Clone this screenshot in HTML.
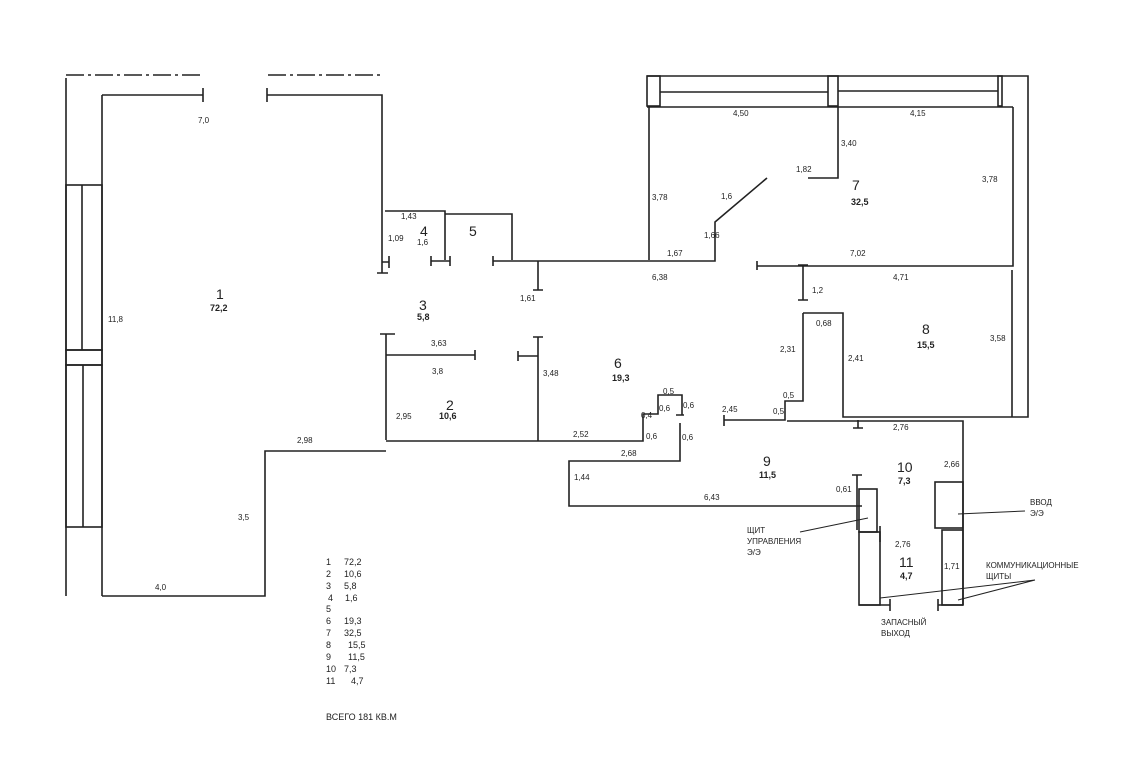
<!DOCTYPE html>
<html><head><meta charset="utf-8"><style>
html,body{margin:0;padding:0;background:#fff;}
svg{display:block;}
text{font-family:"Liberation Sans",sans-serif;fill:#222;}
.s{font-size:8px;}
.b{font-size:14px;}
.m{font-size:9px;font-weight:bold;}
</style></head><body>
<svg width="1129" height="768" viewBox="0 0 1129 768" xmlns="http://www.w3.org/2000/svg">
<g stroke="#222" stroke-width="1.6" fill="none">
<!-- left building -->
<path d="M66 78 V596 M102 95 V596"/>
<path d="M66 75 H200 M268 75 H382" stroke-dasharray="18,4,3,4"/>
<path d="M102 95 H203 M203 88 V102 M267 88 V102 M267 95 H382 V273 M377 273 H388 M389 256 V268 M382 262 H389"/>
<rect x="66" y="185" width="36" height="165"/><path d="M82 185 V350"/>
<rect x="66" y="350" width="36" height="15"/>
<rect x="66" y="365" width="36" height="162"/><path d="M83 365 V527"/>
<path d="M102 596 H265 V451 H386"/>
<!-- rooms 4,5 -->
<path d="M385 211 H445 V260 M431 261 H450 M431 256 V266 M450 256 V266"/>
<path d="M445 214 H512 V260 M493 256 V266 M493 261 H715 V222 L767 178 M538 261 V290 M533 290 H543"/>
<!-- room 2 -->
<path d="M386 334 V440 M380 334 H395 M386 355 H475 M475 350 V360 M518 356 H538 M518 351 V361 M538 337 V441 M533 337 H543"/>
<path d="M386 441 H643 V414 H658 V395 H682 V415 M676 415 H684 M680 423 V461 H569 V506 H862"/>
<!-- room 7 -->
<path d="M647 76 H1028 V417 H1012 M1013 107 V266 H757 M757 261 V270"/>
<rect x="647" y="76" width="13" height="30"/><rect x="828" y="76" width="10" height="30"/><rect x="998" y="76" width="4" height="30"/>
<path d="M660 92 H828 M838 91 H998 M647 107 H1013 M649 107 V260 M838 107 V178 H808"/>
<!-- room 8 -->
<path d="M803 265 V300 M798 265 H808 M798 300 H808 M803 313 V401 H785 V420 H724 M724 415 V426 M803 313 H843 V417 H1012 M1012 270 V417"/>
<path d="M787 421 H963 V605 M858 420 V428 M853 428 H863"/>
<!-- 10/11 -->
<rect x="935" y="482" width="28" height="46"/><rect x="942" y="530" width="21" height="75"/>
<path d="M938 605 H963 M938 599 V611"/>
<path d="M857 475 V530 M852 475 H862"/>
<rect x="859" y="489" width="18" height="43"/><rect x="859" y="532" width="21" height="73"/>
<path d="M880 526 V542 M859 605 H890 M890 599 V611"/>
</g>
<g stroke="#222" stroke-width="1" fill="none">
<path d="M800 532 L868 518 M958 514 L1025 511 M1035 580 L880 598 M1035 580 L958 600"/>
</g>
<g class="s">
<text x="198" y="123">7,0</text>
<text x="108" y="322">11,8</text>
<text x="238" y="520">3,5</text>
<text x="155" y="590">4,0</text>
<text x="297" y="443">2,98</text>
<text x="401" y="219">1,43</text>
<text x="388" y="241">1,09</text>
<text x="417" y="245">1,6</text>
<text x="520" y="301">1,61</text>
<text x="431" y="346">3,63</text>
<text x="432" y="374">3,8</text>
<text x="396" y="419">2,95</text>
<text x="543" y="376">3,48</text>
<text x="573" y="437">2,52</text>
<text x="621" y="456">2,68</text>
<text x="574" y="480">1,44</text>
<text x="704" y="500">6,43</text>
<text x="652" y="280">6,38</text>
<text x="667" y="256">1,67</text>
<text x="704" y="238">1,66</text>
<text x="721" y="199">1,6</text>
<text x="652" y="200">3,78</text>
<text x="733" y="116">4,50</text>
<text x="910" y="116">4,15</text>
<text x="841" y="146">3,40</text>
<text x="796" y="172">1,82</text>
<text x="982" y="182">3,78</text>
<text x="850" y="256">7,02</text>
<text x="893" y="280">4,71</text>
<text x="812" y="293">1,2</text>
<text x="816" y="326">0,68</text>
<text x="780" y="352">2,31</text>
<text x="848" y="361">2,41</text>
<text x="990" y="341">3,58</text>
<text x="663" y="394">0,5</text>
<text x="659" y="411">0,6</text>
<text x="683" y="408">0,6</text>
<text x="641" y="418">0,4</text>
<text x="646" y="439">0,6</text>
<text x="682" y="440">0,6</text>
<text x="722" y="412">2,45</text>
<text x="783" y="398">0,5</text>
<text x="773" y="414">0,5</text>
<text x="893" y="430">2,76</text>
<text x="944" y="467">2,66</text>
<text x="836" y="492">0,61</text>
<text x="895" y="547">2,76</text>
<text x="944" y="569">1,71</text>
<text x="747" y="533">ЩИТ</text>
<text x="747" y="544">УПРАВЛЕНИЯ</text>
<text x="747" y="555">Э/Э</text>
<text x="1030" y="505">ВВОД</text>
<text x="1030" y="516">Э/Э</text>
<text x="986" y="568">КОММУНИКАЦИОННЫЕ</text>
<text x="986" y="579">ЩИТЫ</text>
<text x="881" y="625">ЗАПАСНЫЙ</text>
<text x="881" y="636">ВЫХОД</text>
</g>
<g class="b">
<text x="216" y="299">1</text><text x="419" y="310">3</text><text x="420" y="236">4</text>
<text x="469" y="236">5</text><text x="446" y="410">2</text><text x="614" y="368">6</text>
<text x="852" y="190">7</text><text x="922" y="334">8</text><text x="763" y="466">9</text>
<text x="897" y="472">10</text><text x="899" y="567">11</text>
</g>
<g class="m">
<text x="210" y="311">72,2</text><text x="417" y="320">5,8</text>
<text x="439" y="419">10,6</text><text x="612" y="381">19,3</text>
<text x="851" y="205">32,5</text><text x="917" y="348">15,5</text>
<text x="759" y="478">11,5</text><text x="898" y="484">7,3</text><text x="900" y="579">4,7</text>
</g>
<g class="s" style="font-size:9px">
<text x="326" y="565">1</text><text x="344" y="565">72,2</text>
<text x="326" y="577">2</text><text x="344" y="577">10,6</text>
<text x="326" y="589">3</text><text x="344" y="589">5,8</text>
<text x="328" y="601">4</text><text x="345" y="601">1,6</text>
<text x="326" y="612">5</text>
<text x="326" y="624">6</text><text x="344" y="624">19,3</text>
<text x="326" y="636">7</text><text x="344" y="636">32,5</text>
<text x="326" y="648">8</text><text x="348" y="648">15,5</text>
<text x="326" y="660">9</text><text x="348" y="660">11,5</text>
<text x="326" y="672">10</text><text x="344" y="672">7,3</text>
<text x="326" y="684">11</text><text x="351" y="684">4,7</text>
<text x="326" y="720">ВСЕГО 181 КВ.М</text>
</g>
</svg>
</body></html>
